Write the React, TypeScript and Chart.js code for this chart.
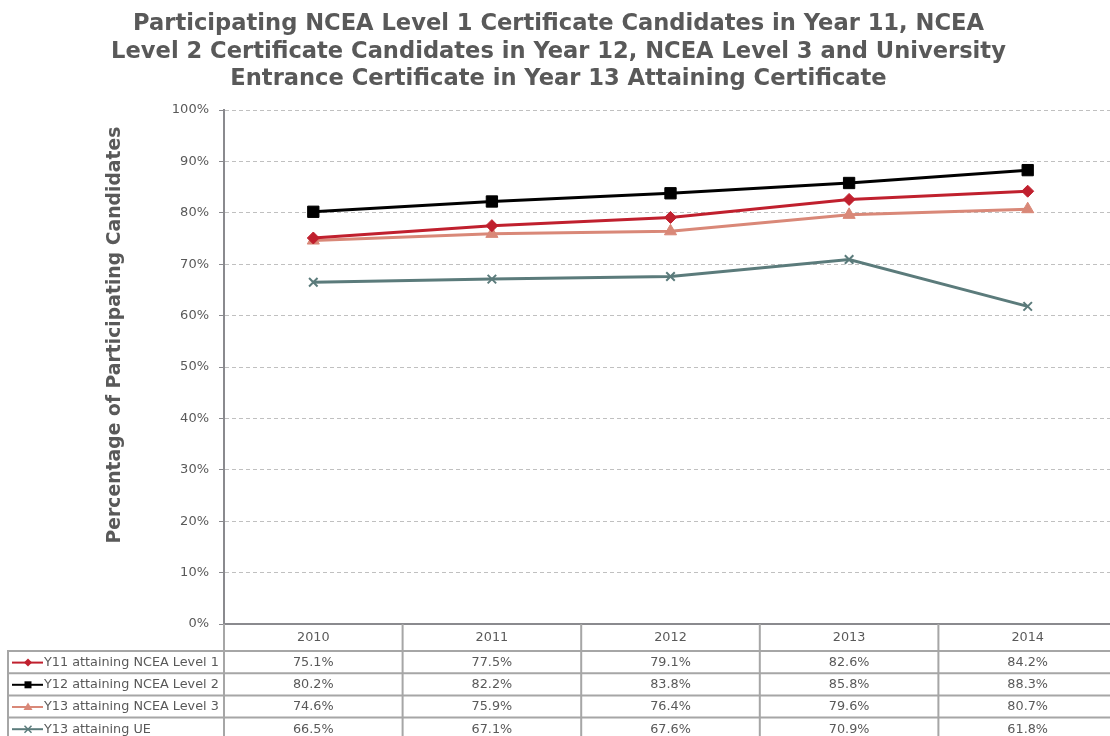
import React, { useEffect, useRef } from 'react';
import { Chart, registerables } from 'chart.js';

Chart.register(...registerables);

const years = ['2010', '2011', '2012', '2013', '2014'];
const y11Level1 = [75.1, 77.5, 79.1, 82.6, 84.2];
const y12Level2 = [80.2, 82.2, 83.8, 85.8, 88.3];
const y13Level3 = [74.6, 75.9, 76.4, 79.6, 80.7];
const y13UE = [66.5, 67.1, 67.6, 70.9, 61.8];
const seriesNames = [
  'Y11 attaining NCEA Level 1',
  'Y12 attaining NCEA Level 2',
  'Y13 attaining NCEA Level 3',
  'Y13 attaining UE',
];
const titleLines = [
  'Participating NCEA Level 1 Certificate Candidates in Year 11, NCEA',
  'Level 2 Certificate Candidates in Year 12, NCEA Level 3 and University',
  'Entrance Certificate in Year 13 Attaining Certificate',
];
const yAxisTitle = 'Percentage of Participating Candidates';
const yMin = 0;
const yMax = 100;
const yStep = 10;

const FONT = '"DejaVu Sans", Verdana, sans-serif';
const TEXT = '#595959';
const colors = ['#C0202E', '#000000', '#D98878', '#5B7B7B'];
const styles = ['rectRot', 'rect', 'triangle', 'crossRot'];

function drawMarker(ctx: CanvasRenderingContext2D, style: string, x: number, y: number, color: string) {
  ctx.save();
  ctx.fillStyle = color;
  ctx.strokeStyle = color;
  ctx.beginPath();
  if (style === 'rectRot') {
    const r = 4;
    ctx.moveTo(x, y - r);
    ctx.lineTo(x + r, y);
    ctx.lineTo(x, y + r);
    ctx.lineTo(x - r, y);
    ctx.closePath();
    ctx.fill();
  } else if (style === 'rect') {
    ctx.rect(x - 3.5, y - 3.5, 7, 7);
    ctx.fill();
  } else if (style === 'triangle') {
    ctx.moveTo(x, y - 4.5);
    ctx.lineTo(x + 4.5, y + 3);
    ctx.lineTo(x - 4.5, y + 3);
    ctx.closePath();
    ctx.fill();
  } else {
    ctx.lineWidth = 1.5;
    ctx.moveTo(x - 3.5, y - 3.5);
    ctx.lineTo(x + 3.5, y + 3.5);
    ctx.moveTo(x + 3.5, y - 3.5);
    ctx.lineTo(x - 3.5, y + 3.5);
    ctx.stroke();
  }
  ctx.restore();
}

const decorPlugin = {
  id: 'decor',
  afterDraw(chart: any) {
    const ctx: CanvasRenderingContext2D = chart.ctx;
    const { left, right, top, bottom } = chart.chartArea;
    const xScale = chart.scales.x;
    ctx.save();

    // Title
    ctx.fillStyle = TEXT;
    ctx.font = `bold 22.6px ${FONT}`;
    ctx.textAlign = 'center';
    ctx.textBaseline = 'middle';
    titleLines.forEach((t, i) => ctx.fillText(t, chart.width / 2, 24.5 + i * 27.5));

    // Y axis title
    ctx.save();
    ctx.translate(left - 109, (top + bottom) / 2 - 32);
    ctx.rotate(-Math.PI / 2);
    ctx.font = `bold 18.8px ${FONT}`;
    ctx.fillText(yAxisTitle, 0, 0);
    ctx.restore();

    // Data table
    const n = years.length;
    const band = (right - left) / n;
    const headerBottom = bottom + 27;
    const rowH = 22.2;
    const tableLeft = 8;
    const tableBottom = headerBottom + rowH * seriesNames.length;
    ctx.strokeStyle = '#a6a6a6';
    ctx.lineWidth = 2;
    ctx.beginPath();
    for (let i = 0; i <= n; i++) {
      const bx = left + i * band;
      ctx.moveTo(bx, bottom);
      ctx.lineTo(bx, tableBottom + 2);
    }
    ctx.moveTo(tableLeft, headerBottom);
    ctx.lineTo(tableLeft, tableBottom + 2);
    for (let r = 0; r <= seriesNames.length; r++) {
      const yy = headerBottom + r * rowH;
      ctx.moveTo(tableLeft - 1, yy);
      ctx.lineTo(right, yy);
    }
    ctx.stroke();

    ctx.fillStyle = TEXT;
    ctx.font = `12.8px ${FONT}`;
    ctx.textAlign = 'center';
    ctx.textBaseline = 'middle';
    years.forEach((yr, i) => {
      ctx.fillText(yr, xScale.getPixelForValue(i), bottom + 14);
    });

    chart.data.datasets.forEach((ds: any, r: number) => {
      const cy = headerBottom + r * rowH + rowH / 2 + 0.5;
      ctx.textAlign = 'center';
      ctx.fillStyle = TEXT;
      (ds.data as number[]).forEach((v, i) => {
        ctx.fillText(v.toFixed(1) + '%', xScale.getPixelForValue(i), cy);
      });
      // legend key
      ctx.strokeStyle = colors[r];
      ctx.lineWidth = 2;
      ctx.beginPath();
      ctx.moveTo(12, cy);
      ctx.lineTo(43, cy);
      ctx.stroke();
      drawMarker(ctx, styles[r], 28, cy, colors[r]);
      ctx.fillStyle = TEXT;
      ctx.textAlign = 'left';
      ctx.fillText(seriesNames[r], 44, cy);
    });

    ctx.restore();
  },
};

export default function App() {
  const canvasRef = useRef<HTMLCanvasElement | null>(null);

  useEffect(() => {
    if (!canvasRef.current) return;
    const seriesData = [y11Level1, y12Level2, y13Level3, y13UE];
    const radii = [6, 8, 7, 6];
    const chart = new Chart(canvasRef.current, {
      type: 'line',
      data: {
        labels: years,
        datasets: seriesData.map((d, i) => ({
          label: seriesNames[i],
          data: d,
          borderColor: colors[i],
          backgroundColor: colors[i],
          borderWidth: 3,
          pointStyle: styles[i] as any,
          pointRadius: radii[i],
          pointBorderWidth: i === 3 ? 2 : 1,
          pointBackgroundColor: colors[i],
          pointBorderColor: colors[i],
          tension: 0,
        })),
      },
      options: {
        responsive: false,
        animation: false,
        layout: { autoPadding: false, padding: { top: 110, bottom: 116, left: 0, right: 0 } } as any,
        plugins: {
          legend: { display: false },
          title: { display: false },
          tooltip: { enabled: false },
        },
        scales: {
          x: {
            type: 'category',
            offset: true,
            ticks: { display: false },
            grid: { display: false, drawTicks: false },
            border: { display: true, color: '#8a8a8e', width: 2 },
            afterFit: (s: any) => {
              s.height = 0;
              s.paddingLeft = 0;
              s.paddingRight = 0;
            },
          },
          y: {
            min: yMin,
            max: yMax,
            ticks: {
              stepSize: yStep,
              padding: 10,
              color: TEXT,
              font: { family: FONT, size: 13 },
              callback: (v: any) => v + '%',
            },
            grid: {
              color: '#c0c0c0',
              lineWidth: 1,
              tickLength: 5,
              tickColor: '#8a8a8e',
              tickWidth: 1,
            },
            border: { display: true, color: '#8a8a8e', width: 2, dash: [4, 3] as any },
            afterFit: (s: any) => {
              s.width = 224;
            },
          } as any,
        },
      },
      plugins: [decorPlugin],
    });
    const yOpts: any = chart.options.scales!.y;
    yOpts.grid.borderDash = [4, 3];
    chart.update();
    return () => chart.destroy();
  }, []);

  return (
    <div
      style={{
        position: 'fixed',
        left: 0,
        top: 0,
        width: 1110,
        height: 736,
        overflow: 'hidden',
        background: '#ffffff',
      }}
    >
      <canvas ref={canvasRef} width={1117} height={740} style={{ display: 'block' }} />
    </div>
  );
}
